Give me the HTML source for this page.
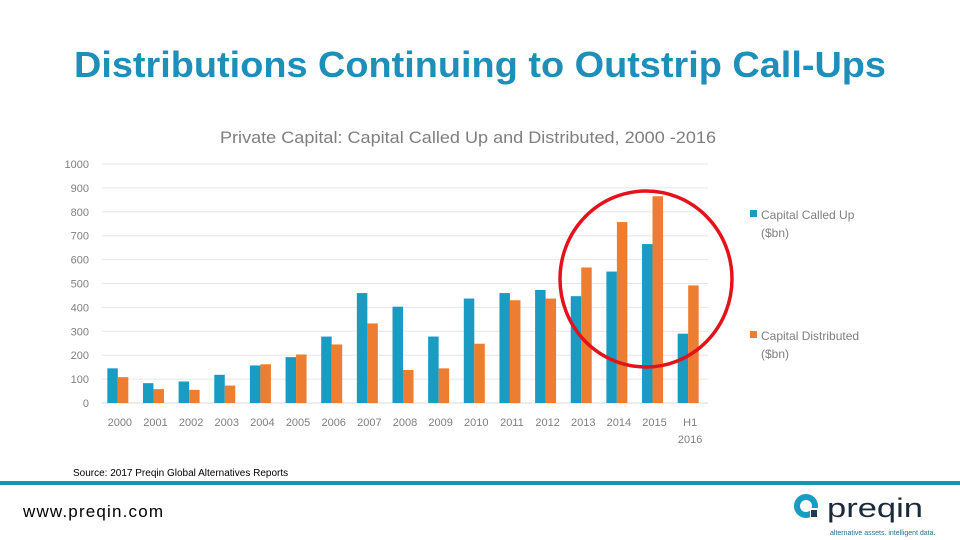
<!DOCTYPE html>
<html><head><meta charset="utf-8"><style>
html,body{margin:0;padding:0;background:#fff;width:960px;height:540px;overflow:hidden}
svg{display:block;font-family:"Liberation Sans",sans-serif}
</style></head><body>
<svg id="chart" width="960" height="540" viewBox="0 0 960 540">
<text x="480" y="77" text-anchor="middle" font-size="36" font-weight="bold" fill="#1d8fb8" textLength="812" lengthAdjust="spacingAndGlyphs">Distributions Continuing to Outstrip Call-Ups</text>
<text x="468" y="143" text-anchor="middle" font-size="17" fill="#7f7f7f" textLength="496" lengthAdjust="spacingAndGlyphs">Private Capital: Capital Called Up and Distributed, 2000 -2016</text>
<g id="grid"></g><g id="bars"></g><g id="xlabels"></g>
<ellipse cx="646" cy="279" rx="86" ry="88" fill="none" stroke="#e4131b" stroke-width="3.5"/>
<g>
<rect x="750" y="210" width="7" height="7" fill="#1a9bc2"/>
<text x="761" y="219" font-size="12" fill="#7f7f7f">Capital Called Up</text>
<text x="761" y="237" font-size="12" fill="#7f7f7f">($bn)</text>
<rect x="750" y="331" width="7" height="7" fill="#ed7d31"/>
<text x="761" y="340" font-size="12" fill="#7f7f7f">Capital Distributed</text>
<text x="761" y="358" font-size="12" fill="#7f7f7f">($bn)</text>
</g>
<text x="73" y="476" font-size="10" fill="#000">Source: 2017 Preqin Global Alternatives Reports</text>
<rect x="0" y="481" width="960" height="4" fill="#1a94b8"/>
<text x="23" y="517" font-size="17" fill="#000" textLength="140" lengthAdjust="spacing">www.preqin.com</text>
<g>
<circle cx="806" cy="506" r="12" fill="#1a9bc2"/>
<circle cx="806" cy="506" r="6" fill="#fff"/>
<rect x="810" y="508" width="8" height="10" fill="#fff"/>
<rect x="811" y="510" width="6" height="7" fill="#1a3e55"/>
<text x="827" y="517" font-size="27" fill="#1a2a3a" textLength="96" lengthAdjust="spacingAndGlyphs">preqin</text>
<text x="830" y="535" font-size="7" fill="#2a6d8e">alternative assets. intelligent data.</text>
</g>
</svg>
<script>
const categories=["2000","2001","2002","2003","2004","2005","2006","2007","2008","2009","2010","2011","2012","2013","2014","2015","H1|2016"];
const calledUp=[145,83,90,118,157,192,278,460,403,278,437,460,473,447,550,665,290];
const distributed=[108,58,55,73,162,203,245,333,138,145,248,430,437,567,757,865,492];
const yTicks=[0,100,200,300,400,500,600,700,800,900,1000];
const NS="http://www.w3.org/2000/svg";
const x0=102,x1=708,yBase=403,yTop=164,yMax=1000;
const band=(x1-x0)/categories.length;
function y(v){return yBase-(v/yMax)*(yBase-yTop);}
function xc(i){return x0+band*(i+0.5);}
function mk(t,a,p){const e=document.createElementNS(NS,t);for(const k in a)e.setAttribute(k,a[k]);p.appendChild(e);return e;}
const g=document.getElementById('grid');
yTicks.forEach(t=>{
 const l=mk('line',{x1:x0,x2:x1,y1:y(t),y2:y(t),stroke:t===0?'#d9d9d9':'#e6e6e6','stroke-width':1},g);
 
 
 const tx=mk('text',{x:89,y:y(t)+4,'text-anchor':'end','font-size':11,fill:'#7f7f7f'},g);
 tx.textContent=t;
 
 
});
const b=document.getElementById('bars'),xl=document.getElementById('xlabels');
const bw=10.5;
categories.forEach((c,i)=>{
 const cx=xc(i)-2;
 const r1=mk('rect',{x:cx-bw,y:y(calledUp[i]),width:bw,height:yBase-y(calledUp[i]),fill:'#1a9bc2'},b);
 
 
 const r2=mk('rect',{x:cx,y:y(distributed[i]),width:bw,height:yBase-y(distributed[i]),fill:'#ed7d31'},b);
 
 
 c.split('|').forEach((s,j)=>{
  const t=mk('text',{x:xc(i),y:426+j*17,'text-anchor':'middle','font-size':11,fill:'#7f7f7f'},xl);
  t.textContent=s;
  
  
 });
});
</script>
</body></html>
